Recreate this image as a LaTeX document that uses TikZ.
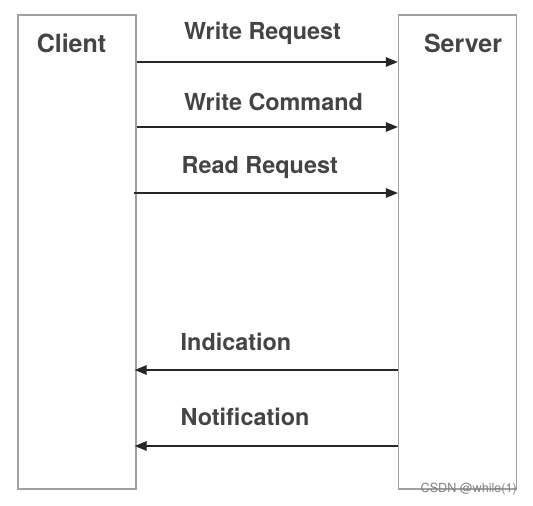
\documentclass[tikz,border=0pt]{standalone}
\usepackage{fontspec}
\setmainfont{TeX Gyre Heros}
\usepackage{xcolor}
\definecolor{lanegray}{RGB}{160, 160, 164}
\definecolor{labelgray}{RGB}{68, 68, 68}
\usetikzlibrary{arrows.meta, positioning}

\begin{document}
\begin{tikzpicture}[x=1pt, y=-1pt, >={Triangle[length=12pt, width=9.5pt]}]

        % Styles des boites et des messages
        \tikzset{lane/.style={rectangle, draw=lanegray, line width=1.3pt, fill=white, minimum width=118pt, minimum height=474pt, inner sep=0pt}}
        \tikzset{title/.style={font=\fontsize{25}{30}\selectfont\bfseries, text=labelgray, inner sep=0pt}}
        \tikzset{msglabel/.style={font=\fontsize{23.4}{28}\selectfont\bfseries, text=labelgray, anchor=west, inner sep=0pt}}
        \tikzset{msg/.style={->, line width=1.3pt, draw=black!85}}

        \useasboundingbox (0,0) rectangle (533,506);

        % Client et serveur
        \node [lane] (client) at (77,252) {};
        \node [lane] (server) at (457.5,252) {};
        \node [title] (clientname) at (71.5,43) {Client};
        \node [title] (servername) at (463,43) {Server};

        % Messages client -> serveur
        \node [msglabel] (wrreq) at (184,33.5) {Write Request};
        \node [msglabel] (wrcmd) at (184,101.5) {Write Command};
        \node [msglabel] (rdreq) at (181.5,167.5) {Read Request};
        \draw [msg] (client.east |- 0,62) -- (server.west |- 0,62);
        \draw [msg] (client.east |- 0,127) -- (server.west |- 0,127);
        \draw [msg] ([xshift=-3pt]client.east |- 0,193) -- (server.west |- 0,193);

        % Messages serveur -> client
        \node [msglabel] (indic) at (180.5,341.5) {Indication};
        \node [msglabel] (notif) at (180.5,416.5) {Notification};
        \draw [msg] (server.west |- 0,370) -- ([xshift=-2pt]client.east |- 0,370);
        \draw [msg] (server.west |- 0,446) -- ([xshift=-2pt]client.east |- 0,446);

        \node [anchor=east, inner sep=0pt, text=black!50, font=\fontsize{12.6}{15}\selectfont] (mark) at (517,489) {CSDN @while(1)};
    \end{tikzpicture}
\end{document}
